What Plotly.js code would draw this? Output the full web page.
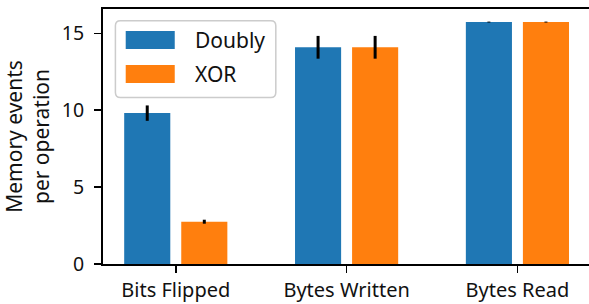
<!DOCTYPE html>
<html><head><meta charset="utf-8">
<script src="https://cdn.plot.ly/plotly-3.0.1.min.js"></script>
<style>body{margin:0;padding:0;background:#fff}#c{width:589px;height:304px}</style>
</head><body><div id="c"></div>
<script>
const categories = ["Bits Flipped", "Bytes Written", "Bytes Read"];
const seriesNames = ["Doubly", "XOR"];
const doublyValues = [9.81, 14.09, 15.73];
const doublyErrors = [0.5, 0.74, 0.03];
const xorValues = [2.75, 14.09, 15.73];
const xorErrors = [0.13, 0.74, 0.03];
const yTicks = [0, 5, 10, 15];
const colors = ["#1f77b4", "#ff7f0e"];

const W = 589, H = 304;
const L = 103.3, R = 589, T = 9, B = 264.3;
const px = x => (x - L) / (R - L);
const py = y => (B - y) / (B - T);

const font = {family: "'Noto Sans', sans-serif", size: 21, color: "#111"};
const xTickFont = {family: "'Noto Sans', sans-serif", size: 20, color: "#111"};
const yTickFont = {family: "'Noto Sans', sans-serif", size: 19.5, color: "#111"};

function errTrace(name, vals, errs, color) {
  return {
    type: "bar", name: name, x: categories, y: vals,
    marker: {color: color, line: {width: 0}},
    error_y: {type: "data", array: errs, visible: true, color: "#000", thickness: 3, width: 0},
    showlegend: false
  };
}
const data = [
  errTrace(seriesNames[0], doublyValues, doublyErrors, colors[0]),
  errTrace(seriesNames[1], xorValues, xorErrors, colors[1])
];

function rr(x0, y0, x1, y1, r) {
  const a = px(x0), b = px(x1), c = py(y0), d = py(y1);
  const rx = r / (R - L), ry = r / (B - T);
  return `M ${a+rx},${c} L ${b-rx},${c} Q ${b},${c} ${b},${c-ry} L ${b},${d+ry} Q ${b},${d} ${b-rx},${d} L ${a+rx},${d} Q ${a},${d} ${a},${d+ry} L ${a},${c-ry} Q ${a},${c} ${a+rx},${c} Z`;
}

const shapes = [
  {type: "path", xref: "paper", yref: "paper", path: rr(115.7, 20.7, 276, 97.7, 5),
   fillcolor: "rgba(255,255,255,0.85)", line: {color: "#cccccc", width: 1.5}},
  {type: "rect", xref: "paper", yref: "paper", x0: px(126), x1: px(175), y0: py(31), y1: py(49),
   fillcolor: colors[0], line: {width: 0}},
  {type: "rect", xref: "paper", yref: "paper", x0: px(126), x1: px(175), y0: py(65), y1: py(83),
   fillcolor: colors[1], line: {width: 0}}
];
const annotations = [
  {xref: "paper", yref: "paper", x: px(193), y: py(40), xanchor: "left", yanchor: "middle",
   text: seriesNames[0], showarrow: false, font: font},
  {xref: "paper", yref: "paper", x: px(193), y: py(74), xanchor: "left", yanchor: "middle",
   text: seriesNames[1], showarrow: false, font: font}
];

const layout = {
  width: W, height: H,
  margin: {l: L, r: W - R, t: T, b: H - B, pad: 0},
  paper_bgcolor: "#fff", plot_bgcolor: "#fff",
  font: font,
  barmode: "group", bargap: 0.332, bargroupgap: 0.192,
  xaxis: {
    range: [-0.426, 2.419], showgrid: false, zeroline: false,
    showline: true, linecolor: "#000", linewidth: 2, mirror: true,
    ticks: "outside", ticklen: 7, tickwidth: 1.6, tickcolor: "#000",
    tickfont: xTickFont, ticklabelstandoff: 0
  },
  yaxis: {
    range: [0, 16.58], showgrid: false, zeroline: false,
    showline: true, linecolor: "#000", linewidth: 2,
    ticks: "outside", ticklen: 7, tickwidth: 1.6, tickcolor: "#000",
    tickvals: yTicks, ticktext: yTicks.map(String),
    tickfont: yTickFont, ticklabelstandoff: 6,
    title: {text: "Memory events<br>per operation", font: font, standoff: 10}
  },
  shapes: shapes, annotations: annotations, showlegend: false
};
Plotly.newPlot("c", data, layout, {staticPlot: true, displayModeBar: false});
</script></body></html>
